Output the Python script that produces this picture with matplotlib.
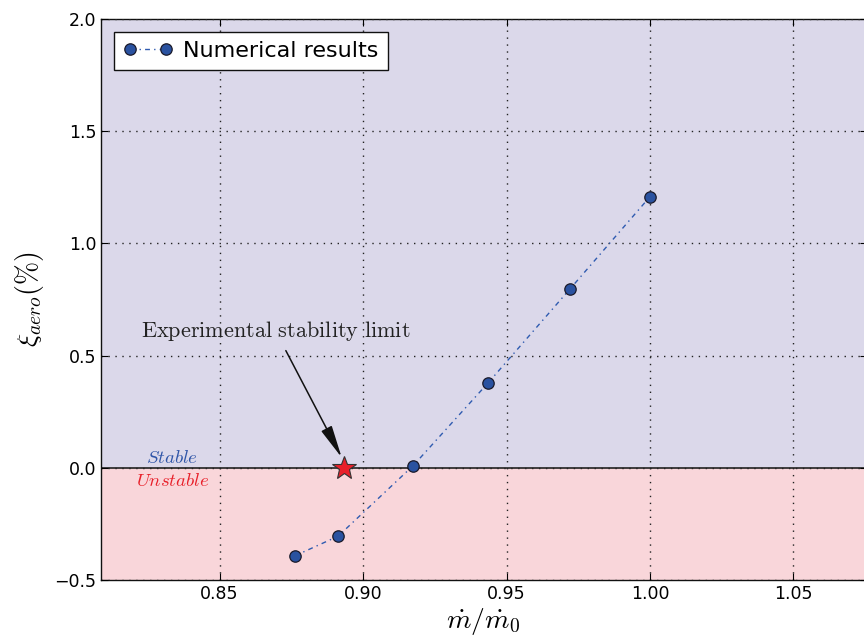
import matplotlib
matplotlib.use('Agg')
import matplotlib.pyplot as plt

# Données
debit = [0.8763, 0.8913, 0.9175, 0.9437, 0.9720, 1.0000]
xi_aero = [-0.392, -0.305, 0.010, 0.380, 0.795, 1.208]
limite_x = 0.8935
limite_y = 0.0
xticks = [0.85, 0.90, 0.95, 1.00, 1.05]
yticks = [-0.5, 0.0, 0.5, 1.0, 1.5, 2.0]

plt.rcParams['mathtext.fontset'] = 'cm'

fig = plt.figure(figsize=(8.64, 6.44), dpi=100)
ax = fig.add_axes([0.117, 0.0994, 0.886, 0.8711])

xmin, xmax = 0.8087, 1.0755
ymin, ymax = -0.5, 2.0

# Zones stable / instable
ax.axhspan(0.0, ymax, color='#dbd8ea', zorder=0)
ax.axhspan(ymin, 0.0, color='#f9d6da', zorder=0)
ax.axhline(0.0, color='#222222', lw=1.2, zorder=2)

ax.plot(debit, xi_aero, linestyle=(0, (3.5, 3, 1, 3)), color='#2f5bb0', lw=1.0,
        marker='o', markersize=8.2, markerfacecolor='#2a52a0',
        markeredgecolor='#1a1a2a', markeredgewidth=0.9,
        label='Numerical results', zorder=3)

ax.plot([limite_x], [limite_y], marker='*', markersize=18,
        color='#e8202a', markeredgecolor='#333333', markeredgewidth=0.8, zorder=4)

ax.annotate(r'$\mathrm{Experimental\ stability\ limit}$',
            xy=(limite_x - 0.0005, 0.035), xytext=(0.8695, 0.61),
            fontsize=16, ha='center', va='center', color='#222222',
            arrowprops=dict(arrowstyle='-|>,head_length=1.0,head_width=0.18',
                            color='#111111', lw=1.1,
                            mutation_scale=20, shrinkA=4, shrinkB=2))

ax.text(0.8335, 0.045, r'$\mathit{Stable}$', color='#2f55a8', fontsize=13.5,
        ha='center', va='center')
ax.text(0.8335, -0.058, r'$\mathit{Unstable}$', color='#e8202a', fontsize=13.5,
        ha='center', va='center')

ax.set_xlim(xmin, xmax)
ax.set_ylim(ymin, ymax)
ax.set_xticks(xticks)
ax.set_yticks(yticks)
ax.set_xticklabels(['%.2f' % v for v in xticks])
ax.set_yticklabels(['\u22120.5' if v < 0 else '%.1f' % v for v in yticks])
ax.tick_params(direction='in', top=True, right=True, labelsize=12.5, length=5)
ax.grid(True, color='#222222', linestyle=(0, (1, 4)), lw=1.0)
ax.set_axisbelow(False)

ax.set_xlabel(r'$\dot{m}/\dot{m}_0$', fontsize=20, labelpad=2)
ax.set_ylabel(r'$\xi_{aero}(\%)$', fontsize=20, labelpad=6)

leg = ax.legend(loc='upper left', numpoints=2, fontsize=16, fancybox=False,
                framealpha=1.0, borderaxespad=0.6, handlelength=2.2,
                handletextpad=0.5)
leg.get_frame().set_edgecolor('#111111')
leg.get_frame().set_linewidth(1.0)

for s in ax.spines.values():
    s.set_linewidth(1.0)
    s.set_color('#111111')

fig.savefig('out.png', dpi=100)
